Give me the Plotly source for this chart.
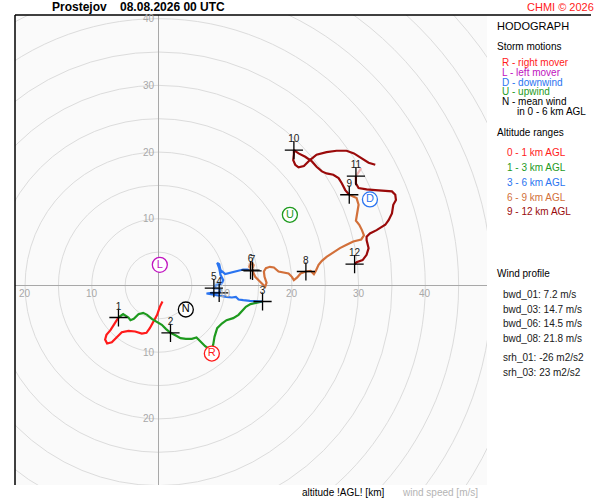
import plotly.graph_objects as go

# hodograph path, u/v components in m/s, split by altitude range
red_u = [0.6, 0.2, -0.2, -0.7, -1.3, -1.8, -2.5, -3.5, -4.5, -5.5, -6.3, -7.0, -7.7, -8.0, -7.8, -7.2, -6.7, -6.3, -6.0]
red_v = [-2.4, -3.2, -4.4, -5.4, -6.4, -7.1, -7.2, -6.9, -6.8, -7.0, -7.8, -8.5, -8.7, -8.1, -7.4, -6.7, -5.9, -5.2, -4.8]

green_u = [-6.0, -5.3, -4.5, -4.2, -3.7, -3.0, -2.3, -1.7, -1.0, -0.3, 0.5, 1.1, 1.8, 2.6, 3.3, 4.1, 5.0, 5.7, 6.3,
           7.0, 7.6, 8.0, 8.2, 8.4, 8.8, 9.5, 10.2, 11.2, 12.0, 12.6, 13.1, 13.8, 14.6, 15.6]
green_v = [-4.8, -4.3, -4.8, -5.2, -5.0, -4.3, -4.1, -4.4, -5.0, -5.4, -5.9, -6.5, -7.1, -7.5, -7.9, -8.0, -8.0, -7.8, -8.4,
           -9.1, -9.5, -9.6, -8.9, -7.7, -6.4, -5.7, -5.2, -4.9, -4.4, -3.8, -3.2, -2.8, -2.6, -2.4]

blue_u = [15.6, 14.7, 13.7, 12.7, 12.0, 11.6, 11.0, 10.2, 9.5, 8.7, 8.0, 7.2, 8.0, 9.1, 9.3, 8.3, 8.7, 9.5, 9.7,
          9.3, 9.1, 8.8, 9.1, 9.3, 10.0, 10.7, 11.7, 12.7, 13.5, 13.8]
blue_v = [-2.4, -2.4, -2.3, -2.2, -2.1, -1.7, -1.8, -1.7, -1.6, -1.5, -1.3, -1.2, -1.1, -1.1, -0.6, -0.4, 0.1, 0.3, 0.8,
          1.6, 2.6, 3.4, 3.2, 2.3, 1.7, 1.9, 2.2, 2.4, 2.4, 2.3]

orange_u = [13.8, 13.6, 13.9, 14.3, 14.1, 14.5, 15.2, 16.0, 16.2, 15.9, 15.8, 16.1, 16.7, 17.3, 18.0, 18.7, 19.5, 20.0,
            20.3, 20.8, 21.3, 22.1, 22.8, 23.3, 23.6, 24.0, 24.5, 25.2, 26.2, 27.2, 28.2, 29.2, 30.4, 30.8, 30.5,
            30.1, 29.6, 29.7, 30.0, 29.7, 28.6]
orange_v = [2.3, 2.8, 3.3, 3.1, 2.2, 1.3, 0.6, -0.2, 0.4, 1.3, 2.1, 2.6, 2.8, 2.7, 2.1, 2.0, 1.8, 1.3,
            0.8, 1.2, 1.8, 2.1, 2.2, 1.7, 2.2, 3.1, 3.7, 4.3, 5.0, 5.6, 6.1, 6.6, 6.9, 7.5, 8.3,
            9.1, 9.7, 10.5, 12.1, 13.1, 13.6]

darkred_u = [28.6, 28.0, 27.5, 27.0, 26.2, 25.2, 24.5, 23.7, 23.0, 22.0, 21.0, 20.3, 20.3, 20.2, 20.5, 21.0, 21.8,
             22.7, 23.7, 25.2, 26.7, 28.2, 29.3, 30.5, 31.5, 32.5, None,
             29.6, 29.6, 30.0, 31.2, 32.5, 33.7, 35.0, 35.5, 35.6, 35.2, 35.0, 34.5, 34.0, 32.7, 31.7, 31.2,
             31.2, 31.5, 31.2, 30.6, 29.7, 29.4]
darkred_v = [13.6, 14.3, 15.3, 16.1, 16.6, 16.8, 17.1, 17.8, 18.6, 19.3, 19.8, 20.3, 19.7, 18.8, 18.1, 17.7, 17.9,
             18.8, 19.6, 20.0, 20.2, 20.2, 19.8, 19.1, 18.4, 18.1, None,
             16.4, 15.3, 14.6, 14.4, 14.3, 14.2, 14.1, 13.6, 12.8, 12.1, 10.8, 9.8, 9.1, 8.3, 7.8, 7.3,
             6.8, 5.6, 4.6, 3.8, 3.5, 3.2]

pink_u = [30.4, 29.6]
pink_v = [17.6, 16.4]

# altitude marks every km
km_labels = ["1", "2", "3", "4", "5", "6", "7", "8", "9", "10", "11", "12"]
km_u = [-6.0, 1.8, 15.6, 9.1, 8.3, 13.8, 14.1, 22.1, 28.6, 20.3, 29.6, 29.4]
km_v = [-4.8, -7.1, -2.4, -1.1, -0.4, 2.3, 2.2, 2.1, 13.6, 20.3, 16.4, 3.2]

# storm motions
storm_letters = ["R", "L", "D", "U", "N"]
storm_u = [8.0, 0.2, 31.7, 19.7, 4.1]
storm_v = [-10.2, 3.1, 12.9, 10.6, -3.6]
storm_colors = ["#ff1a1a", "#c012c0", "#2a74f0", "#1e9a1e", "#000000"]

rings = [5, 10, 15, 20, 25, 30, 35, 40, 45, 50, 55, 60, 65, 70]
tick_vals = [-20, -10, 10, 20, 30, 40]

legend_storm = ["R - right mover", "L - left mover", "D - downwind", "U - upwind", "N - mean wind"]
legend_alt = ["0 - 1 km AGL", "1 - 3 km AGL", "3 - 6 km AGL", "6 - 9 km AGL", "9 - 12 km AGL"]
alt_colors = ["#ff1a1a", "#1e9a1e", "#2a74f0", "#d2703a", "#9a0a0a"]
wind_profile = ["bwd_01: 7.2 m/s", "bwd_03: 14.7 m/s", "bwd_06: 14.5 m/s", "bwd_08: 21.8 m/s",
                "srh_01: -26 m2/s2", "srh_03: 23 m2/s2"]

FONT = "Liberation Sans, Arial, sans-serif"
W, H = 600, 500


def px(x, y):
    return x / W, 1 - y / H


fig = go.Figure()

segments = [(red_u, red_v, alt_colors[0]), (green_u, green_v, alt_colors[1]), (blue_u, blue_v, alt_colors[2]),
            (orange_u, orange_v, alt_colors[3]), (darkred_u, darkred_v, alt_colors[4]),
            (pink_u, pink_v, "#f0b4b4")]
for su, sv, c in segments:
    fig.add_trace(go.Scatter(x=su, y=sv, mode="lines", line=dict(color=c, width=2.2), hoverinfo="skip"))

# pale blobs where the path loops tightly
fig.add_trace(go.Scatter(x=[8.9, 13.9], y=[0.1, 3.0], mode="markers",
                         marker=dict(size=[9, 8], color=["rgba(160,200,240,0.7)", "rgba(235,170,130,0.7)"]),
                         hoverinfo="skip"))

fig.add_trace(go.Scatter(x=km_u, y=km_v, mode="markers",
                         marker=dict(symbol="cross-thin", size=13, line=dict(color="black", width=1.3)),
                         hoverinfo="skip"))
# invisible marker pushes the km label a little higher
fig.add_trace(go.Scatter(x=km_u, y=km_v, mode="markers+text", text=km_labels, textposition="top center",
                         marker=dict(size=7, opacity=0),
                         textfont=dict(family=FONT, size=10, color="#202020"), hoverinfo="skip"))

fig.add_trace(go.Scatter(x=storm_u, y=storm_v, mode="markers+text", text=storm_letters,
                         textposition="middle center",
                         textfont=dict(family=FONT, size=11, color=storm_colors),
                         marker=dict(size=15, color="white", line=dict(color=storm_colors, width=1.3)),
                         hoverinfo="skip"))

shapes = []
for r in rings:
    shapes.append(dict(type="circle", xref="x", yref="y", x0=-r, x1=r, y0=-r, y1=r,
                       line=dict(color="#dcdcdc", width=1), layer="below"))
# frame: top and left edges only
x0, y0 = px(15, 15)
x1, _ = px(591, 15)
_, y1 = px(15, 485)
shapes.append(dict(type="line", xref="paper", yref="paper", x0=x0, x1=x1, y0=y0, y1=y0,
                   line=dict(color="black", width=1.5)))
shapes.append(dict(type="line", xref="paper", yref="paper", x0=x0, x1=x0, y0=y0, y1=y1,
                   line=dict(color="black", width=1.5)))

ann = []
for t in tick_vals:
    ann.append(dict(x=t, y=0, xref="x", yref="y", text=str(abs(t)), showarrow=False, xanchor="center",
                    yanchor="top", yshift=-1, font=dict(family=FONT, size=10, color="#a8a8a8")))
for t in [-20, -10, 10, 20, 30, 40]:
    ann.append(dict(x=0, y=t, xref="x", yref="y", text=str(abs(t)), showarrow=False, xanchor="right",
                    yanchor="middle", xshift=-1, font=dict(family=FONT, size=10, color="#a8a8a8")))


def txt(x, y, s, color="black", size=10, anchor="left", bold=False):
    ax, ay = px(x, y)
    if bold:
        s = "<b>" + s + "</b>"
    ann.append(dict(x=ax, y=ay, xref="paper", yref="paper", text=s, showarrow=False, xanchor=anchor,
                    yanchor="middle", font=dict(family=FONT, size=size, color=color)))


txt(50, 7, "Prostejov    08.08.2026 00 UTC", size=12, bold=True)
txt(596, 7, "CHMI © 2026", color="#ff2020", size=11, anchor="right")
txt(495, 26, "HODOGRAPH", size=11)
txt(495, 47, "Storm motions")
for i, s in enumerate(legend_storm):
    txt(500, 62 + 10 * i, s, color=storm_colors[i])
txt(515, 112, "in 0 - 6 km AGL")
txt(495, 132, "Altitude ranges")
for i, s in enumerate(legend_alt):
    txt(505, 152 + 15 * i, s, color=alt_colors[i])
txt(495, 273, "Wind profile")
wp_y = [294, 309, 323, 338, 357, 372]
for s, yy in zip(wind_profile, wp_y):
    txt(501, yy, s, color="#202020")
txt(300, 492, "altitude !AGL! [km]", color="black")
txt(400, 492, "wind speed [m/s]", color="#b4b4b4")

xd0, _ = px(15, 0)
xd1, _ = px(487, 0)
fig.update_layout(
    width=W, height=H, margin=dict(l=0, r=0, t=0, b=0),
    paper_bgcolor="white", plot_bgcolor="#fafafa",
    showlegend=False, shapes=shapes, annotations=ann,
    xaxis=dict(domain=[xd0, xd1], range=[-21.51, 49.25], showgrid=False, showticklabels=False, ticks="",
               zeroline=True, zerolinecolor="#a8a8a8", zerolinewidth=1.3, fixedrange=True),
    yaxis=dict(domain=[0.03, 0.97], range=[-29.91, 40.55], showgrid=False, showticklabels=False, ticks="",
               zeroline=True, zerolinecolor="#a8a8a8", zerolinewidth=1.3, fixedrange=True),
)

# page body margin would shift the 600x500 figure
fig.write_html("out.html", config={"displayModeBar": False},
               post_script="document.body.style.margin='0';")
